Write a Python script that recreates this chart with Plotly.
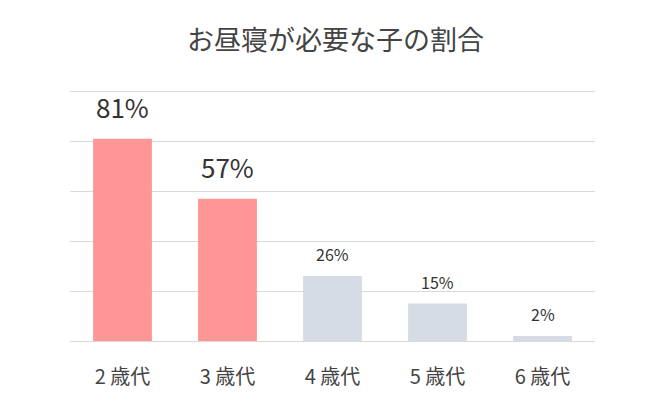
import plotly.graph_objects as go

# Data
ages = ['2 歳代', '3 歳代', '4 歳代', '5 歳代', '6 歳代']
rates = [81, 57, 26, 15, 2]
bar_colors = ['#FF9696', '#FF9696', '#D6DCE5', '#D6DCE5', '#D6DCE5']
label_sizes = [26, 26, 16, 16, 16]
label_shifts = [12, 12, 8, 8, 8]

fig = go.Figure()

fig.add_trace(go.Bar(
    x=ages,
    y=rates,
    marker=dict(color=bar_colors, line=dict(width=0)),
    hoverinfo='skip'
))

for a, r, s, sh in zip(ages, rates, label_sizes, label_shifts):
    fig.add_annotation(x=a, y=r, text=f'{r}%', showarrow=False,
                       yanchor='bottom', yshift=sh,
                       font=dict(size=s, color='#333333'))

fig.update_layout(
    title=dict(text='お昼寝が必要な子の割合', x=0.5, xanchor='center',
               y=0.92, yanchor='middle',
               font=dict(size=27, color='#444444')),
    font=dict(family='Noto Sans CJK JP'),
    width=655,
    height=411,
    margin=dict(l=62, r=68, t=82, b=78),
    plot_bgcolor='white',
    paper_bgcolor='white',
    bargap=0.44,
    showlegend=False,
    xaxis=dict(range=[-0.5, 4.5], showline=False, ticks='',
               ticklabelstandoff=22,
               tickfont=dict(size=20, color='#444444')),
    yaxis=dict(range=[0, 100.5], dtick=20, showticklabels=False,
               gridcolor='#D9D9D9', gridwidth=1, zeroline=True,
               zerolinecolor='#D9D9D9', zerolinewidth=1),
)

fig.write_html('out.html')
